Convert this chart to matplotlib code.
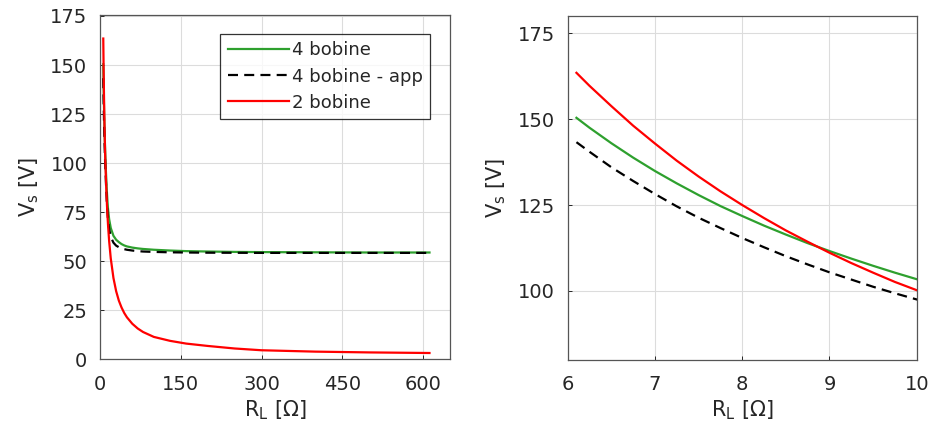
import matplotlib
matplotlib.use("Agg")
import matplotlib.pyplot as plt

plt.rcParams['font.family'] = ['DejaVu Sans']
plt.rcParams['mathtext.fontset'] = 'dejavusans'

# values
R_L = [6.1, 6.25, 6.5, 6.75, 7, 7.25, 7.5, 7.75, 8, 8.25, 8.5, 8.75, 9, 9.25,
       9.5, 9.75, 10, 11, 12, 13, 14, 15, 17, 20, 25, 30, 35, 40, 45, 50, 60,
       70, 80, 100, 130, 160, 200, 250, 300, 400, 500, 612]
vs_4 = [150.4, 147.5, 143.0, 138.8, 134.9, 131.3, 127.9, 124.7, 121.8, 119.0,
        116.4, 113.9, 111.6, 109.4, 107.3, 105.3, 103.4, 96, 90, 84.5, 80,
        76.5, 71.5, 67, 63, 61, 59.8, 58.8, 58.1, 57.6, 57, 56.6, 56.3, 55.9,
        55.5, 55.2, 55.0, 54.8, 54.7, 54.6, 54.5, 54.5]
vs_4_app = [143.3, 140.5, 136.0, 132.0, 128.2, 124.6, 121.3, 118.3, 115.4,
            112.7, 110.1, 107.7, 105.4, 103.3, 101.2, 99.3, 97.5, 90.5, 84,
            78.5, 74.5, 71, 66.5, 62.5, 59.5, 58, 57.2, 56.6, 56.2, 55.9, 55.5,
            55.2, 55.0, 54.8, 54.6, 54.5, 54.4, 54.35, 54.3, 54.3, 54.3, 54.3]
vs_2 = [163.5, 159.7, 153.8, 148.1, 142.9, 137.9, 133.3, 129.0, 125.0, 121.2,
        117.6, 114.3, 111.1, 108.1, 105.3, 102.6, 100.2, 92.4, 84.8, 78.4, 73,
        68.2, 60.3, 51.5, 41.5, 34.8, 30, 26.5, 23.7, 21.5, 18.2, 15.8, 14,
        11.5, 9.5, 8.1, 6.9, 5.6, 4.7, 4.0, 3.6, 3.3]

labels = ["4 bobine", "4 bobine - app", "2 bobine"]
green = '#2ea02e'
txt = '#262626'

fig = plt.figure(figsize=(9.31, 4.34), dpi=100)
ax1 = fig.add_axes([0.1074, 0.1717, 0.3759, 0.7938])
ax2 = fig.add_axes([0.6098, 0.1715, 0.3749, 0.7913])


def draw(ax):
    ax.plot(R_L, vs_4, color=green, lw=1.6, label=labels[0])
    ax.plot(R_L, vs_4_app, color='black', lw=1.6, ls=(0, (4.5, 2.8)), label=labels[1])
    ax.plot(R_L, vs_2, color='#ff0000', lw=1.6, label=labels[2])
    ax.grid(True, color='#dcdcdc', lw=0.8)
    ax.set_axisbelow(True)
    ax.tick_params(direction='in', length=3, width=0.7, colors=txt,
                   labelsize=14, top=False, right=False, pad=9)
    ax.tick_params(axis='x', pad=11)
    for s in ax.spines.values():
        s.set_color('#555555')
        s.set_linewidth(0.9)
    ax.set_xlabel(r"R$_\mathregular{L}$ [Ω]", fontsize=15, color=txt, labelpad=3)
    ax.set_ylabel(r"V$_\mathregular{s}$ [V]", fontsize=15, color=txt, labelpad=7)


draw(ax1)
ax1.set_xlim(0, 650)
ax1.set_ylim(0, 175.5)
ax1.set_xticks([0, 150, 300, 450, 600])
ax1.set_yticks([0, 25, 50, 75, 100, 125, 150, 175])
leg = ax1.legend(loc='upper right', bbox_to_anchor=(0.943, 0.944), borderaxespad=0,
                 fontsize=13, frameon=True, fancybox=False, handlelength=3.4,
                 handletextpad=0.15, borderpad=0.4, labelspacing=0.45)
leg.get_frame().set_edgecolor('black')
leg.get_frame().set_linewidth(0.9)
for t in leg.get_texts():
    t.set_color(txt)

draw(ax2)
ax2.set_xlim(6, 10)
ax2.set_ylim(80, 180)
ax2.set_xticks([6, 7, 8, 9, 10])
ax2.set_yticks([100, 125, 150, 175])

fig.savefig("out.png", dpi=100)
